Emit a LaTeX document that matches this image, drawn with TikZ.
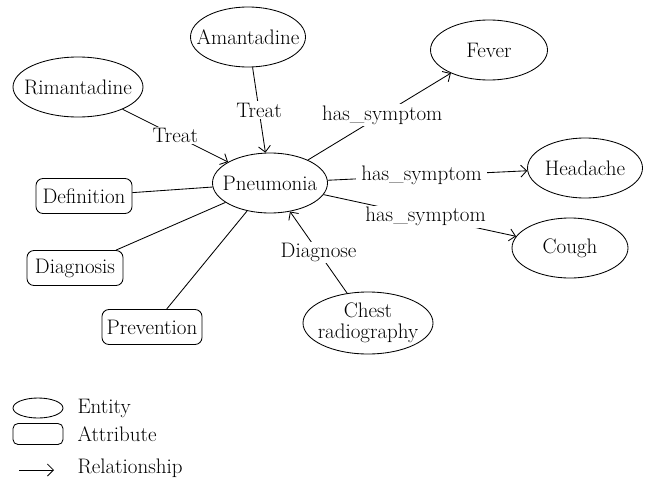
\documentclass[tikz,border=0pt]{standalone}
\usetikzlibrary{shapes.geometric,arrows.meta}
\begin{document}
\begin{tikzpicture}[x=1pt,y=-1pt,
  every node/.style={font=\rmfamily\fontsize{21}{22}\selectfont},
  entity/.style={draw,ellipse,inner xsep=-14pt,inner ysep=0pt,minimum width=115pt,minimum height=60pt,line width=0.85pt},
  attr/.style={draw,rounded corners=7pt,inner sep=0pt,minimum width=96pt,minimum height=35pt,line width=0.85pt},
  rel/.style={-{Straight Barb[length=6pt,width=12pt,line width=0.85pt]},line width=0.85pt},
  link/.style={line width=0.85pt},
  lbl/.style={fill=white,inner xsep=5pt,inner ysep=1.5pt}]
\useasboundingbox (0,0) rectangle (647,482);

% entities
\node[entity] (pn) at (270,183) {Pneumonia};
\node[entity] (am) at (248,37) {Amantadine};
\node[entity,minimum width=130pt] (ri) at (78,87) {Rimantadine};
\node[entity,minimum width=117pt] (fe) at (489,50) {Fever};
\node[entity] (he) at (585,168) {Headache};
\node[entity,minimum width=116pt] (co) at (570,248) {Cough};
\node[entity,minimum width=130pt,minimum height=62pt,inner ysep=-8pt,align=center,font=\rmfamily\fontsize{21}{21}\selectfont] (ch) at (368,323) {Chest\\radiography};

% attributes
\node[attr] (de) at (84,196) {Definition};
\node[attr] (dg) at (75,268) {Diagnosis};
\node[attr,minimum width=100pt] (pr) at (152,327) {Prevention};

% relationships
\draw[rel] (am) -- node[lbl,pos=0.5] {Treat} (pn);
\draw[rel] (ri) -- node[lbl,pos=0.5] {Treat} (pn);
\draw[rel] (pn) -- node[lbl,pos=0.52] {has\_symptom} (fe);
\draw[rel] (pn) -- node[lbl,pos=0.47] {has\_symptom} (he);
\draw[rel] (pn) -- node[lbl,pos=0.53] {has\_symptom} (co);
\draw[rel] (ch) -- node[lbl,pos=0.5] {Diagnose} (pn);

% attribute links
\draw[link] (de) -- (pn);
\draw[link] (dg) -- (pn);
\draw[link] (pr) -- (pn);

% legend
\node[draw,ellipse,inner sep=0pt,minimum width=50pt,minimum height=20pt,line width=0.85pt] (lgE) at (38,408) {};
\node[attr,minimum width=50pt,minimum height=21pt,rounded corners=5pt] (lgA) at (38,434) {};
\coordinate (lgR1) at (19,470);
\coordinate (lgR2) at (54,470);
\draw[rel] (lgR1) -- (lgR2);
\node[anchor=west] (tE) at (74,408) {Entity};
\node[anchor=west] (tA) at (74,434) {Attribute};
\node[anchor=west] (tR) at (74,468) {Relationship};
\end{tikzpicture}
\end{document}
